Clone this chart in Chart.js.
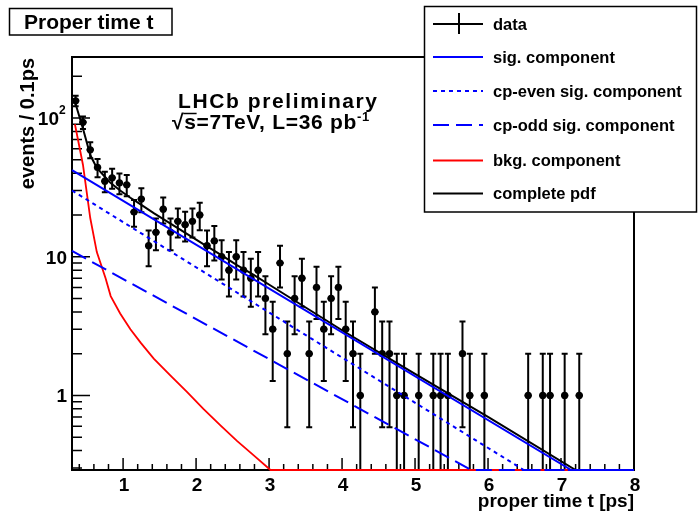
<!DOCTYPE html>
<html><head><meta charset="utf-8">
<script src="https://cdn.jsdelivr.net/npm/chart.js@4.4.1/dist/chart.umd.min.js"></script>
<style>html,body{margin:0;padding:0;background:#fff;overflow:hidden}canvas{display:block}</style>
</head><body>
<canvas id="c" width="698" height="512"></canvas>
<script>
// ---- data ----
const binCenters = [0.35,0.45,0.55,0.65,0.75,0.85,0.95,1.05,1.15,1.25,1.35,1.45,1.55,1.65,1.75,1.85,1.95,2.05,2.15,2.25,
  2.35,2.45,2.55,2.65,2.75,2.85,2.95,3.05,3.15,3.25,3.35,3.45,3.55,3.65,3.75,3.85,3.95,4.05,4.15,4.25,
  4.45,4.55,4.65,4.75,4.85,5.05,5.25,5.35,5.45,5.65,5.75,5.95,6.55,6.75,6.85,7.05,7.25];
const counts = [133,93,59,44,35,37,34,33,21,26,12,15,22,15,18,17,18,20,12,13,
  10,8,10,8,7,8,5,3,9,2,5,7,2,6,3,5,6,3,2,1,
  4,2,2,1,1,1,1,1,1,2,1,1,1,1,1,1,1];
const countErrors = [11.53,9.64,7.68,6.63,5.92,6.08,5.83,5.74,4.58,5.10,3.46,3.87,4.69,3.87,4.24,4.12,4.24,4.47,3.46,3.61,
  3.16,2.83,3.16,2.83,2.65,2.83,2.24,1.73,3.00,1.41,2.24,2.65,1.41,2.45,1.73,2.24,2.45,1.73,1.41,1.00,
  2.00,1.41,1.41,1.00,1.00,1.00,1.00,1.00,1.00,1.41,1.00,1.00,1.00,1.00,1.00,1.00,1.00];
const binHalfWidth = 0.05;

const sigX  = [0.3, 7.14, 8.0];
const sigY  = [42, 0.29, 0.29];
const evenX = [0.3, 6.49, 8.0];
const evenY = [30, 0.29, 0.29];
const oddX  = [0.3, 5.77, 8.0];
const oddY  = [11, 0.29, 0.29];
const bkgX  = [0.34,0.45,0.55,0.64,0.76,0.83,0.96,1.10,1.24,1.42,1.65,1.875,2.10,2.33,2.56,2.79,3.02,8.0];
const bkgY  = [90,46,19,10.8,7.0,5.2,3.9,3.0,2.4,1.84,1.39,1.06,0.80,0.61,0.47,0.37,0.29,0.29];
const pdfX  = [0.34,0.45,0.55,0.64,0.76,0.83,0.96,1.10,1.24,1.42,1.65,1.875,2.10,2.33,2.56,2.79,3.02,4.0,5.0,6.0,7.2,8.0];
const pdfY  = [131,84,54,43.6,37.2,33.9,30,26.6,23.8,20.6,17.3,14.6,12.3,10.4,8.7,7.4,6.2,2.95,1.43,0.70,0.29,0.29];

const xMajorTicks = [1,2,3,4,5,6,7,8];
const xTickLabels = ['1','2','3','4','5','6','7','8'];
const yMajorTicks = [1,10,100];
const yTickLabels = ['1','10','10^2'];
const yMinorTicks = [0.3,0.4,0.5,0.6,0.7,0.8,0.9,2,3,4,5,6,7,8,9,20,30,40,50,60,70,80,90,200];
const legendLabels = ['data','sig. component','cp-even sig. component','cp-odd sig. component','bkg. component','complete pdf'];

const FONT = '"Liberation Sans", Arial, Helvetica, sans-serif';
const pts = (xs, ys) => xs.map((v, i) => ({x: v, y: ys[i]}));

const dsData = {label:'data', data: pts(binCenters, counts), showLine:false, pointRadius:3.6,
  pointBackgroundColor:'#000', pointBorderColor:'#000', pointBorderWidth:0, order:10};
const dsSig  = {label:'sig. component', data: pts(sigX, sigY), borderColor:'#0000ff', borderWidth:2, pointRadius:0, order:3, clip:3};
const dsEven = {label:'cp-even sig. component', data: pts(evenX, evenY), borderColor:'#0000ff', borderWidth:2, borderDash:[4,4], pointRadius:0, order:2, clip:3};
const dsOdd  = {label:'cp-odd sig. component', data: pts(oddX, oddY), borderColor:'#0000ff', borderWidth:2, borderDash:[16,7], pointRadius:0, order:1, clip:3};
const dsBkg  = {label:'bkg. component', data: pts(bkgX, bkgY), borderColor:'#ff0000', borderWidth:1.8, pointRadius:0, order:5, clip:3};
const dsPdf  = {label:'complete pdf', data: pts(pdfX, pdfY), borderColor:'#000000', borderWidth:2, pointRadius:0, order:4, clip:3};
const legendSets = [dsData, dsSig, dsEven, dsOdd, dsBkg, dsPdf];

const rootPlugin = {
  id: 'rootStyle',
  beforeDraw(chart) {
    const ctx = chart.ctx;
    ctx.save(); ctx.fillStyle = '#fff'; ctx.fillRect(0, 0, chart.width, chart.height); ctx.restore();
  },
  beforeDatasetsDraw(chart) {
    const {ctx, chartArea: a, scales: {x, y}} = chart;
    ctx.save();
    ctx.setLineDash([]);
    ctx.strokeStyle = '#000'; ctx.fillStyle = '#000';
    // frame
    ctx.lineWidth = 2;
    ctx.strokeRect(a.left, a.top, a.right - a.left, a.bottom - a.top);
    // ticks
    ctx.lineWidth = 1.5;
    ctx.beginPath();
    yMajorTicks.forEach(v => { const py = y.getPixelForValue(v); ctx.moveTo(a.left, py); ctx.lineTo(a.left + 18, py); });
    yMinorTicks.forEach(v => { const py = y.getPixelForValue(v); ctx.moveTo(a.left, py); ctx.lineTo(a.left + 10, py); });
    xMajorTicks.forEach(v => { const px = x.getPixelForValue(v); ctx.moveTo(px, a.bottom); ctx.lineTo(px, a.bottom - 12); });
    for (let k = 0; k <= 38; k++) {
      const v = 0.4 + k * 0.2;
      if (Math.abs(v - Math.round(v)) < 1e-6 || v > 8) continue;
      const px = x.getPixelForValue(v); ctx.moveTo(px, a.bottom); ctx.lineTo(px, a.bottom - 6);
    }
    ctx.stroke();
    // x tick labels
    ctx.font = 'bold 19px ' + FONT;
    ctx.textAlign = 'center'; ctx.textBaseline = 'alphabetic';
    xMajorTicks.forEach((v, i) => ctx.fillText(xTickLabels[i], x.getPixelForValue(v) + 1, 491));
    // y tick labels
    yMajorTicks.forEach((v, i) => {
      const py = y.getPixelForValue(v);
      const lab = yTickLabels[i];
      if (lab.includes('^')) {
        const [b, e] = lab.split('^');
        ctx.font = 'bold 12px ' + FONT; ctx.textAlign = 'left';
        ctx.fillText(e, 59, py - 4);
        ctx.font = 'bold 19px ' + FONT; ctx.textAlign = 'right';
        ctx.fillText(b, 59, py + 7);
      } else {
        ctx.font = 'bold 19px ' + FONT; ctx.textAlign = 'right';
        ctx.fillText(lab, 67, py + 7);
      }
    });
    // axis titles
    ctx.font = 'bold 19px ' + FONT; ctx.textAlign = 'right';
    ctx.fillText('proper time t [ps]', a.right, 507);
    ctx.save();
    ctx.translate(34, 58); ctx.rotate(-Math.PI / 2);
    ctx.font = 'bold 20px ' + FONT; ctx.textAlign = 'right';
    ctx.fillText('events / 0.1ps', 0, 0);
    ctx.restore();
    // LHCb label
    ctx.font = 'bold 21px ' + FONT; ctx.textAlign = 'left';
    try { ctx.letterSpacing = '1.6px'; } catch (e) {}
    ctx.fillText('LHCb preliminary', 178, 108);
    try { ctx.letterSpacing = '0.7px'; } catch (e) {}
    let cx = 172;
    ctx.fillText('\u221A', cx, 129); cx += ctx.measureText('\u221A').width;
    const sw = ctx.measureText('s').width;
    ctx.fillText('s', cx, 129);
    ctx.lineWidth = 1.5; ctx.beginPath(); ctx.moveTo(cx - 1, 113.5); ctx.lineTo(cx + sw, 113.5); ctx.stroke();
    cx += sw;
    const rest = '=7TeV, L=36 pb';
    ctx.fillText(rest, cx, 129); cx += ctx.measureText(rest).width;
    ctx.font = 'bold 13px ' + FONT;
    ctx.fillText('-1', cx, 121);
    try { ctx.letterSpacing = '0px'; } catch (e) {}
    ctx.restore();
  },
  beforeDatasetDraw(chart, args) {
    if (args.index !== 0) return;
    const {ctx, chartArea: a, scales: {x, y}} = chart;
    ctx.save();
    ctx.beginPath(); ctx.rect(a.left, a.top, a.right - a.left, a.bottom - a.top); ctx.clip();
    ctx.strokeStyle = '#000'; ctx.lineWidth = 2;
    binCenters.forEach((c, i) => {
      const px = x.getPixelForValue(c);
      const lo = counts[i] - countErrors[i];
      const yTop = y.getPixelForValue(counts[i] + countErrors[i]);
      const yBot = lo > 0 ? y.getPixelForValue(lo) : a.bottom + 4;
      const yc = y.getPixelForValue(counts[i]);
      ctx.beginPath();
      ctx.moveTo(px, yTop); ctx.lineTo(px, yBot);
      ctx.moveTo(px - 3, yTop); ctx.lineTo(px + 3, yTop);
      if (lo > 0) { ctx.moveTo(px - 3, yBot); ctx.lineTo(px + 3, yBot); }
      ctx.moveTo(x.getPixelForValue(c - binHalfWidth), yc); ctx.lineTo(x.getPixelForValue(c + binHalfWidth), yc);
      ctx.stroke();
    });
    ctx.restore();
  },
  afterDraw(chart) {
    const ctx = chart.ctx;
    ctx.save();
    ctx.setLineDash([]);
    // title box
    ctx.fillStyle = '#fff'; ctx.fillRect(9.5, 8.5, 162.5, 26.5);
    ctx.strokeStyle = '#000'; ctx.lineWidth = 1.5; ctx.strokeRect(9.5, 8.5, 162.5, 26.5);
    ctx.fillStyle = '#000'; ctx.font = 'bold 21px ' + FONT; ctx.textAlign = 'left'; ctx.textBaseline = 'alphabetic';
    ctx.fillText('Proper time t', 24, 28.5);
    // legend box
    ctx.fillStyle = '#fff'; ctx.fillRect(424.5, 6.5, 272, 205.5);
    ctx.strokeStyle = '#000'; ctx.lineWidth = 1.5; ctx.strokeRect(424.5, 6.5, 272, 205.5);
    const rows = [24, 57, 91, 125, 160.5, 193.5];
    legendSets.forEach((ds, i) => {
      const ry = rows[i];
      ctx.save();
      if (i === 0) {
        ctx.strokeStyle = '#000'; ctx.lineWidth = 2; ctx.setLineDash([]);
        ctx.beginPath(); ctx.moveTo(433, ry); ctx.lineTo(483, ry); ctx.moveTo(459, ry - 11); ctx.lineTo(459, ry + 10); ctx.stroke();
      } else {
        ctx.strokeStyle = ds.borderColor; ctx.lineWidth = ds.borderWidth; ctx.setLineDash(ds.borderDash || []);
        ctx.beginPath(); ctx.moveTo(433, ry); ctx.lineTo(483, ry); ctx.stroke();
      }
      ctx.restore();
      ctx.fillStyle = '#000'; ctx.font = 'bold 16.5px ' + FONT; ctx.textAlign = 'left';
      ctx.fillText(legendLabels[i], 493, ry + 5.5);
    });
    ctx.restore();
  }
};

new Chart(document.getElementById('c'), {
  type: 'line',
  data: { datasets: [dsData, dsPdf, dsBkg, dsSig, dsEven, dsOdd] },
  options: {
    responsive: false, animation: false, devicePixelRatio: 1,
    layout: { padding: { left: 72, right: 64, top: 57, bottom: 42 } },
    elements: { line: { tension: 0 } },
    plugins: { legend: { display: false }, title: { display: false }, tooltip: { enabled: false } },
    scales: {
      x: { type: 'linear', min: 0.3, max: 8, display: false },
      y: { type: 'logarithmic', min: 0.29, max: 275, display: false }
    }
  },
  plugins: [rootPlugin]
});
</script>
</body></html>
